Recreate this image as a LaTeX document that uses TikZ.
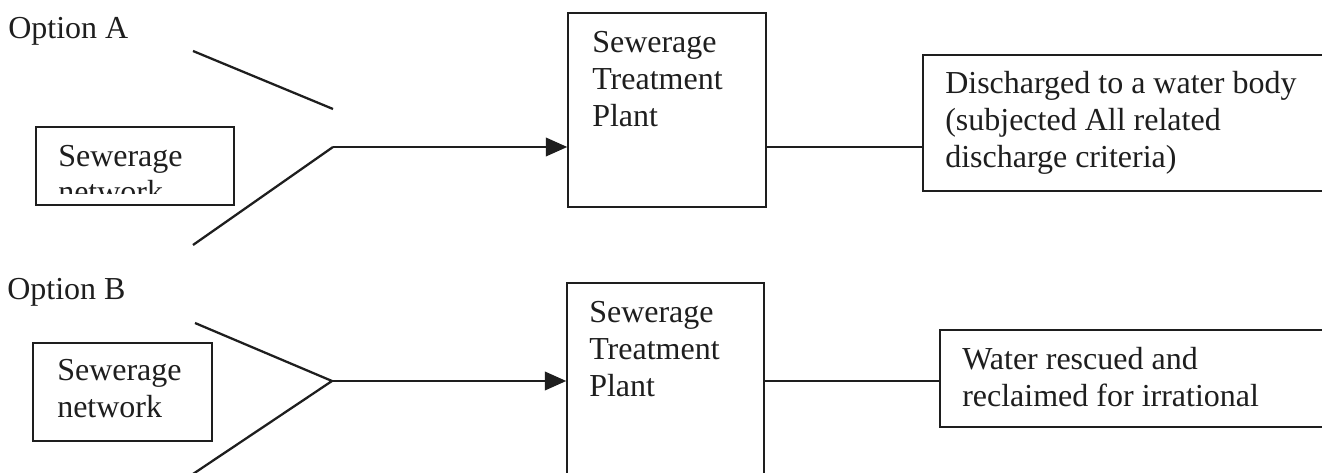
\documentclass[tikz,border=0pt]{standalone}
\usepackage{fontspec}
\setmainfont{Liberation Serif}
\usetikzlibrary{arrows.meta}
\definecolor{ink}{RGB}{30,30,30}
\begin{document}
\begin{tikzpicture}[x=0.75pt,y=-0.75pt,
  font=\fontsize{24pt}{27.75pt}\selectfont,
  every node/.style={text=ink},
  box/.style={draw=ink,line width=1.2pt,rectangle,inner sep=0pt},
  label/.style={anchor=base west,inner sep=0pt,align=left},
  feed/.style={draw=ink,line width=1.7pt},
  flow/.style={draw=ink,line width=1.2pt},
  tip/.style={-{Triangle[length=16pt,width=14pt]}}]
\clip (0,0) rectangle (1322,473);
\fill[white] (0,0) rectangle (1322,473);

% ---------- Option A ----------
% (a multi-line label's base anchor sits on its last line)
\node[label] (optA) at (8,39) {Option A};
\node[box,minimum width=148.5pt,minimum height=58.5pt] (netA) at (135,166) {};
\node[label] (netAtxt) at (58,167) {Sewerage};
\begin{scope}
  \clip (40,130) rectangle (230,194);
  \node[label] (netAcut) at (58,203) {network};
\end{scope}
\node[box,minimum width=148.5pt,minimum height=145.5pt] (stpA) at (667,110) {};
\node[label] (stpAtxt) at (592,127) {Sewerage\\Treatment\\Plant};
\node[box,minimum width=327.75pt,minimum height=102pt] (outA) at (1141.5,123) {};
\node[label] (outAtxt) at (945,168) {Discharged to a water body\\(subjected All related\\discharge criteria)};

\coordinate (inA1) at (193,51);
\coordinate (endA1) at (333,109);
\coordinate (inA2) at (193,245);
\coordinate (jA) at (333,147);
\draw[feed] (inA1) -- (endA1);
\draw[feed] (inA2) -- (jA);
\draw[flow,tip] (jA) -- (jA -| stpA.west);
\draw[flow] (stpA.east |- jA) -- (outA.west |- jA);

% ---------- Option B ----------
\node[label] (optB) at (7,300) {Option B};
\node[box,minimum width=134.25pt,minimum height=73.5pt] (netB) at (122.5,392) {};
\node[label] (netBtxt) at (57,418) {Sewerage\\network};
\node[box,minimum width=147.75pt,minimum height=177.75pt] (stpB) at (665.5,401.5) {};
\node[label] (stpBtxt) at (589,397) {Sewerage\\Treatment\\Plant};
\node[box,minimum width=315pt,minimum height=72.75pt] (outB) at (1150,378.5) {};
\node[label] (outBtxt) at (962,407) {Water rescued and\\reclaimed for irrational};

\coordinate (inB1) at (195,323);
\coordinate (inB2) at (190,476);
\coordinate (jB) at (332,381);
\draw[feed] (inB1) -- (jB) -- (inB2);
\draw[flow,tip] (jB) -- (jB -| stpB.west);
\draw[flow] (stpB.east |- jB) -- (outB.west |- jB);
\end{tikzpicture}
\end{document}
